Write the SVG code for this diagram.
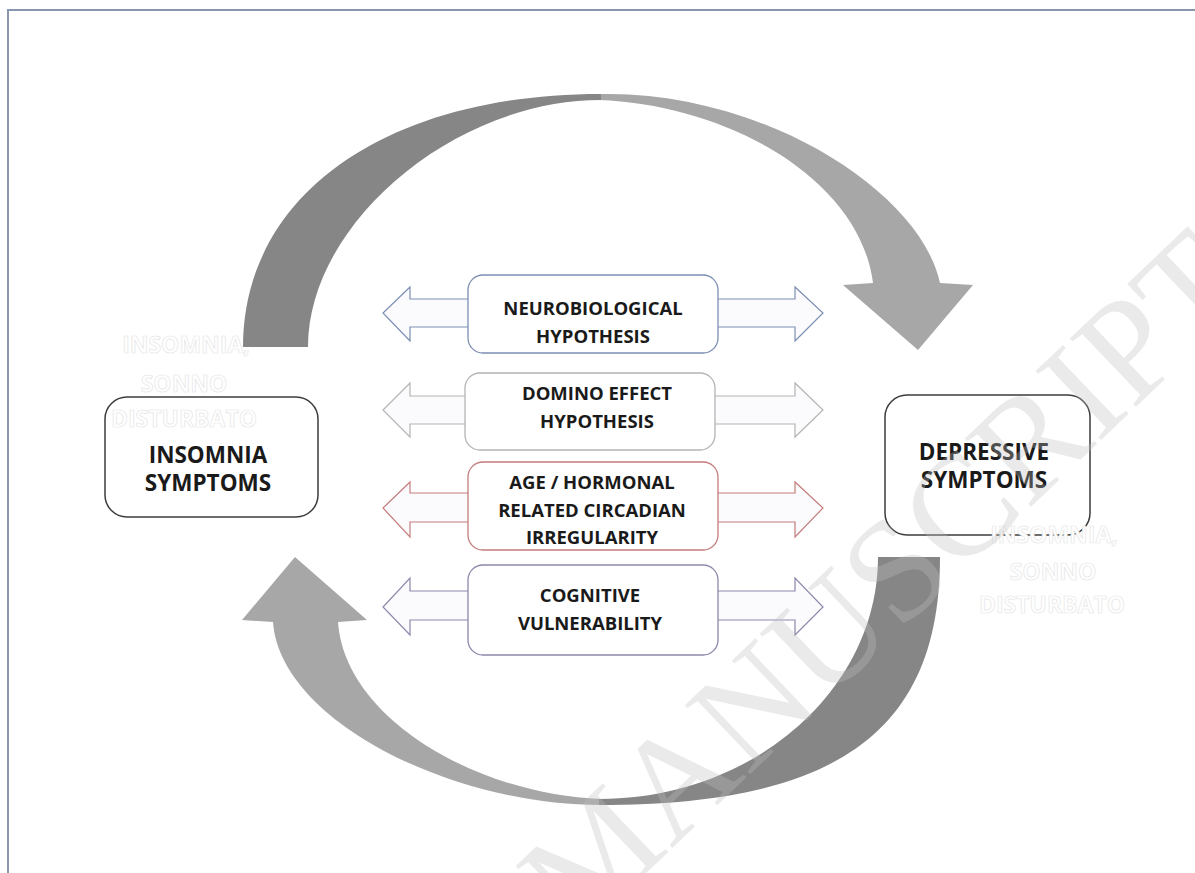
<svg xmlns="http://www.w3.org/2000/svg" width="1195" height="873" viewBox="0 0 1195 873">
<style>
.t{font-family:"Open Sans","DejaVu Sans",sans-serif;font-weight:700;fill:#1a1a1a;text-anchor:middle}
.big{font-size:22.5px}
.mid{font-size:18.5px}
.ghost{font-family:"Open Sans","DejaVu Sans",sans-serif;font-weight:700;font-size:23px;fill:#ffffff;stroke:#e6e6e6;stroke-width:0.7;text-anchor:middle}
.box{fill:#ffffff;stroke:#3c3c3c;stroke-width:1.5}
.dark{fill:#868686}
.light{fill:#a7a7a7}
.harrow{fill:#fbfbfd;stroke-width:1.2}
.wm{font-family:"Liberation Serif","Times New Roman",serif;font-size:145px;fill:#bdbdbd;fill-opacity:0.32}
</style>
<rect x="0" y="0" width="1195" height="873" fill="#ffffff"/>
<path d="M8,873 L8,10 L1195,10" fill="none" stroke="#8a96ad" stroke-width="2"/>

<g id="connectors">
  <g id="cycle-top">
    <path class="light" d="M599,94 C760,90 920,190 940,283 L973,285 L918,350 L843,285 L873,283 C860,180 730,105 599,100 Z"/>
    <path class="dark" d="M243,347 C243,195 386,94 601,94 L601,100 C454,100 308,223.5 308,347 Z"/>
  </g>
  <g id="cycle-bottom">
    <path class="light" d="M601,805 C450,805 280,720 273,622 L242,620 L295,557 L367,620 L338,622 C345,720 480,795 601,799 Z"/>
    <path class="dark" d="M940,557 C940,731 838,805 599,805 L599,799 C753,799 878,690 878,557 Z"/>
  </g>
  <g id="arrows-neuro" stroke="#7d8fb3">
    <polygon class="harrow" points="470,299 410,299 410,287 383,313 410,341 410,327 470,327"/>
    <polygon class="harrow" points="716,299 795,299 795,287 823,313 795,341 795,327 716,327"/>
  </g>
  <g id="arrows-domino" stroke="#b4b4b4">
    <polygon class="harrow" points="467,396 410,396 410,383 383,410 410,437 410,424 467,424"/>
    <polygon class="harrow" points="713,396 795,396 795,383 823,410 795,437 795,424 713,424"/>
  </g>
  <g id="arrows-age" stroke="#c47c7c">
    <polygon class="harrow" points="470,493 410,493 410,482 383,508 410,537 410,522 470,522"/>
    <polygon class="harrow" points="716,493 795,493 795,482 823,508 795,537 795,522 716,522"/>
  </g>
  <g id="arrows-cognitive" stroke="#8c88ab">
    <polygon class="harrow" points="470,591 410,591 410,578 383,607 410,635 410,620 470,620"/>
    <polygon class="harrow" points="716,591 795,591 795,578 823,607 795,635 795,620 716,620"/>
  </g>
</g>

<g id="insomnia">
  <rect class="box" x="105" y="397" width="213" height="120" rx="22"/>
  <text class="t big" x="208" y="462.5">INSOMNIA</text>
  <text class="t big" x="208" y="490.5">SYMPTOMS</text>
</g>
<g id="depressive">
  <rect class="box" x="885" y="395" width="205" height="140" rx="22"/>
  <text class="t big" x="984" y="460">DEPRESSIVE</text>
  <text class="t big" x="984" y="488">SYMPTOMS</text>
</g>
<g id="neurobiological">
  <rect x="468" y="275" width="250" height="78" rx="15" fill="#ffffff" stroke="#7d8fb3" stroke-width="1.3"/>
  <text class="t mid" x="593" y="315">NEUROBIOLOGICAL</text>
  <text class="t mid" x="593" y="343">HYPOTHESIS</text>
</g>
<g id="domino">
  <rect x="465" y="373" width="250" height="77" rx="15" fill="#ffffff" stroke="#b4b4b4" stroke-width="1.3"/>
  <text class="t mid" x="597" y="400">DOMINO EFFECT</text>
  <text class="t mid" x="597" y="428">HYPOTHESIS</text>
</g>
<g id="age-hormonal">
  <rect x="468" y="462" width="250" height="88" rx="15" fill="#ffffff" stroke="#c47c7c" stroke-width="1.3"/>
  <text class="t mid" x="592" y="488.5">AGE / HORMONAL</text>
  <text class="t mid" x="592" y="516.5">RELATED CIRCADIAN</text>
  <text class="t mid" x="592" y="544">IRREGULARITY</text>
</g>
<g id="cognitive">
  <rect x="468" y="565" width="250" height="90" rx="15" fill="#ffffff" stroke="#8c88ab" stroke-width="1.3"/>
  <text class="t mid" x="590" y="601.5">COGNITIVE</text>
  <text class="t mid" x="590" y="630">VULNERABILITY</text>
</g>

<g id="ghost-left">
  <text class="ghost" x="186" y="353">INSOMNIA,</text>
  <text class="ghost" x="184" y="391.5">SONNO</text>
  <text class="ghost" x="184" y="426.5">DISTURBATO</text>
</g>
<g id="ghost-right">
  <text class="ghost" x="1054" y="543">INSOMNIA,</text>
  <text class="ghost" x="1053" y="580">SONNO</text>
  <text class="ghost" x="1052" y="613">DISTURBATO</text>
</g>

<g id="watermark">
  <text class="wm" x="0" y="0" transform="translate(578,938) rotate(-43.6)">MANUSCRIPT</text>
</g>
</svg>
